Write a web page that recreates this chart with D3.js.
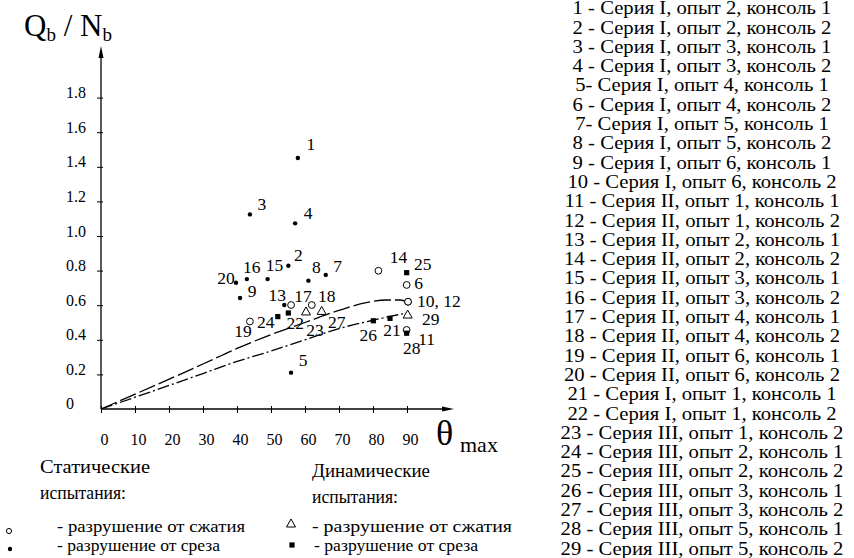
<!DOCTYPE html>
<html lang="ru">
<head>
<meta charset="utf-8" />
<title>Qb / Nb - theta max</title>
<script src="https://cdn.jsdelivr.net/npm/d3@7"></script>
<style>
  body { margin: 0; background: #fff; }
  svg text { font-family: "Liberation Serif", "Times New Roman", "DejaVu Serif", serif; }
  .axis line { stroke: #000; }
</style>
</head>
<body>
<svg id="chart" width="854" height="558"></svg>
<script>
// test points: number, theta max, Qb/Nb, failure kind
var pointIds = [1, 2, 3, 4, 5, 6, 7, 8, 9, 10, 11, 12, 13, 14, 15, 16, 17, 18, 19, 20, 21, 22, 23, 24, 25, 26, 27, 28, 29];
var thetaMax = [57.9, 55.1, 43.8, 57.1, 55.9, 89.9, 66.1, 61.0, 40.9, 90.3, 89.9, 90.3, 53.9, 81.6, 49.0,
                42.9, 55.9, 62.0, 43.8, 39.7, 85.0, 55.1, 60.3, 52.0, 89.9, 80.1, 64.9, 89.9, 90.2];
var qbNb = [1.451, 0.828, 1.125, 1.073, 0.210, 0.717, 0.775, 0.742, 0.642, 0.620, 0.457, 0.620, 0.601, 0.799, 0.751,
            0.751, 0.601, 0.601, 0.506, 0.730, 0.524, 0.555, 0.561, 0.534, 0.788, 0.510, 0.564, 0.438, 0.543];
// sc = static compression, ss = static shear, dc = dynamic compression, ds = dynamic shear
var kinds = ["ss", "ss", "ss", "ss", "ss", "sc", "ss", "ss", "ss", "sc", "sc", "sc", "ss", "sc", "ss",
             "ss", "sc", "sc", "sc", "ss", "ds", "ds", "dc", "ds", "ds", "ds", "dc", "ds", "dc"];

// the two curves
var upperTheta = [0, 30, 40, 50, 60, 70, 78, 84, 88, 90];
var upperVal   = [0, 0.26, 0.35, 0.43, 0.50, 0.57, 0.615, 0.63, 0.63, 0.62];
var lowerTheta = [0, 30, 40, 50, 60, 70, 80, 85, 90];
var lowerVal   = [0, 0.205, 0.275, 0.335, 0.40, 0.465, 0.513, 0.535, 0.555];

var yTicks = [0, 0.2, 0.4, 0.6, 0.8, 1.0, 1.2, 1.4, 1.6, 1.8];
var xTicks = [0, 10, 20, 30, 40, 50, 60, 70, 80, 90];

var legendRows = [
  "1 - Серия I, опыт 2, консоль 1",
  "2 - Серия I, опыт 2, консоль 2",
  "3 - Серия I, опыт 3, консоль 1",
  "4 - Серия I, опыт 3, консоль 2",
  "5- Серия I, опыт 4, консоль 1",
  "6 - Серия I, опыт 4, консоль 2",
  "7- Серия I, опыт 5, консоль 1",
  "8 - Серия I, опыт 5, консоль 2",
  "9 - Серия I, опыт 6, консоль 1",
  "10 - Серия I, опыт 6, консоль 2",
  "11 - Серия II, опыт 1, консоль 1",
  "12 - Серия II, опыт 1, консоль 2",
  "13 - Серия II, опыт 2, консоль 1",
  "14 - Серия II, опыт 2, консоль 2",
  "15 - Серия II, опыт 3, консоль 1",
  "16 - Серия II, опыт 3, консоль 2",
  "17 - Серия II, опыт 4, консоль 1",
  "18 - Серия II, опыт 4, консоль 2",
  "19 - Серия II, опыт 6, консоль 1",
  "20 - Серия II, опыт 6, консоль 2",
  "21 - Серия I, опыт 1, консоль 1",
  "22 - Серия I, опыт 1, консоль 2",
  "23 - Серия III, опыт 1, консоль 2",
  "24 - Серия III, опыт 2, консоль 1",
  "25 - Серия III, опыт 2, консоль 2",
  "26 - Серия III, опыт 3, консоль 1",
  "27 - Серия III, опыт 3, консоль 2",
  "28 - Серия III, опыт 5, консоль 1",
  "29 - Серия III, опыт 5, консоль 2"
];

// where each number sits relative to its mark (pixels), label 12 shares 10
var labelShift = {
  1: [13, -14], 2: [10, -11], 3: [12, -11], 4: [13, -10], 5: [12, -13], 6: [12, -2],
  7: [12, -9], 8: [8, -14], 9: [12, -7], 11: [20, 9], 13: [-7, -10], 14: [20, -14],
  15: [7, -14], 16: [5, -12], 17: [12, -9], 18: [15, -9], 19: [-7, 9], 20: [-10, -5],
  21: [2, 12], 22: [7, 10], 23: [9, 18], 24: [-12, 5], 25: [16, -9], 26: [-5, 14],
  27: [15, 10], 28: [5, 15], 29: [23, 4]
};

var svg = d3.select("#chart");

var x = d3.scaleLinear().domain([0, 90]).range([101, 407]);
var y = d3.scaleLinear().domain([0, 1.8]).range([409, 97.6]);

var points = pointIds.map(function(id, i) {
  return { id: id, t: thetaMax[i], v: qbNb[i], kind: kinds[i] };
});

// axes lines with arrows
svg.append("line").attr("x1", x(0)).attr("y1", y(0)).attr("x2", x(0)).attr("y2", 52)
   .attr("stroke", "#000").attr("stroke-width", 1.3);
svg.append("path").attr("d", "M101,46 L98.5,58 L103.5,58 Z").attr("fill", "#000");
svg.append("line").attr("x1", x(0)).attr("y1", y(0)).attr("x2", 448).attr("y2", y(0))
   .attr("stroke", "#000").attr("stroke-width", 1.3);
svg.append("path").attr("d", "M454,409 L442,406.5 L442,411.5 Z").attr("fill", "#000");

var yAxis = svg.append("g").attr("class", "axis").attr("transform", "translate(" + x(0) + ",0)")
  .call(d3.axisLeft(y).tickValues(yTicks.slice(1)).tickSizeInner(4).tickSizeOuter(0)
        .tickFormat(function(d) { return d.toFixed(1); }));
yAxis.attr("font-family", null).attr("font-size", null);
yAxis.select(".domain").remove();
yAxis.selectAll(".tick line").attr("x1", 2);
yAxis.selectAll(".tick text").attr("x", -35).attr("y", -5).attr("text-anchor", "start")
  .attr("font-size", 16).attr("fill", "#000");
svg.append("text").attr("x", 66).attr("y", y(0) - 5).attr("dy", "0.32em")
  .attr("font-size", 16).text("0");

var xAxis = svg.append("g").attr("class", "axis").attr("transform", "translate(0," + y(0) + ")")
  .call(d3.axisBottom(x).tickValues(xTicks).tickSizeInner(4).tickSizeOuter(0).tickFormat(d3.format("d")));
xAxis.attr("font-family", null).attr("font-size", null);
xAxis.select(".domain").remove();
xAxis.selectAll(".tick line").attr("y1", -3);
xAxis.selectAll(".tick text").attr("y", 31).attr("dy", "0.32em").attr("dx", 3)
  .attr("font-size", 16).attr("fill", "#000");

// axis titles
var yt = svg.append("text").attr("x", 24).attr("y", 36).attr("font-size", 31);
yt.append("tspan").text("Q");
yt.append("tspan").attr("font-size", 19).attr("dy", 5).text("b");
yt.append("tspan").attr("dy", -5).text(" / N");
yt.append("tspan").attr("font-size", 19).attr("dy", 5).text("b");

svg.append("text").attr("x", 436).attr("y", 445).attr("font-size", 36).text("θ");
svg.append("text").attr("x", 460).attr("y", 452).attr("font-size", 22).text("max");

// curves
var line = d3.line().x(function(d) { return x(d[0]); }).y(function(d) { return y(d[1]); })
  .curve(d3.curveMonotoneX);
svg.append("path").datum(d3.zip(upperTheta, upperVal)).attr("d", line)
  .attr("fill", "none").attr("stroke", "#000").attr("stroke-width", 1.3).attr("stroke-dasharray", "17,4");
svg.append("path").datum(d3.zip(lowerTheta, lowerVal)).attr("d", line)
  .attr("fill", "none").attr("stroke", "#000").attr("stroke-width", 1.3).attr("stroke-dasharray", "12,3,2,3");

// markers
function drawMark(sel, kind, small) {
  var k = small ? 0.75 : 1;
  if (kind === "ss") {
    sel.append("circle").attr("r", 2.2).attr("fill", "#000");
  } else if (kind === "sc") {
    sel.append("circle").attr("r", 3.4 * k).attr("fill", "#fff").attr("stroke", "#000").attr("stroke-width", 1);
  } else if (kind === "dc") {
    sel.append("path").attr("d", "M0,-5 L4.5,3 L-4.5,3 Z").attr("fill", "#fff").attr("stroke", "#000").attr("stroke-width", 1);
  } else {
    sel.append("rect").attr("x", -2.6).attr("y", -2.6).attr("width", 5.2).attr("height", 5.2).attr("fill", "#000");
  }
}

var marks = svg.append("g").selectAll("g").data(points).join("g")
  .attr("transform", function(d) { return "translate(" + x(d.t) + "," + y(d.v) + ")"; });
marks.each(function(d) { drawMark(d3.select(this), d.kind); });

svg.append("g").selectAll("text").data(points.filter(function(d) { return labelShift[d.id]; })).join("text")
  .attr("x", function(d) { return x(d.t) + labelShift[d.id][0]; })
  .attr("y", function(d) { return y(d.v) + labelShift[d.id][1]; })
  .attr("text-anchor", "middle").attr("dy", "0.35em").attr("font-size", 17.5)
  .text(function(d) { return d.id; });
var p10 = points[9];
svg.append("text").attr("x", x(p10.t) + 9).attr("y", y(p10.v) - 1).attr("dy", "0.35em")
  .attr("font-size", 17.5).text("10, 12");

// list of tests on the right, stretched to the width of the original list
var rows = svg.append("g");
rows.selectAll("text").data(legendRows).join("text")
  .attr("x", 0).attr("y", function(d, i) { return 8 + i * 19.3; })
  .attr("dy", "0.35em").attr("text-anchor", "middle").attr("font-size", 18)
  .text(function(d) { return d; });
var w1 = rows.select("text").node().getComputedTextLength();
rows.attr("transform", "translate(702,0) scale(" + (259 / w1) + ",1)");

// bottom legend
function legendText(tx, ty, s, size, width) {
  var t = svg.append("text").attr("x", tx).attr("y", ty).attr("font-size", size).text(s);
  if (width) t.attr("textLength", width).attr("lengthAdjust", "spacingAndGlyphs");
}
legendText(40, 473, "Статические", 19.5, 110);
legendText(40, 499, "испытания:", 19.5, 86);
legendText(57, 532, "- разрушение от сжатия", 16.5, 188);
legendText(57, 551, "- разрушение от среза", 16.5, 163);
legendText(312, 477, "Динамические", 19.5, 118);
legendText(312, 503, "испытания:", 19.5, 86);
legendText(312, 532, "- разрушение от сжатия", 16.5, 200);
legendText(314, 551, "- разрушение от среза", 16.5, 164);

var lg = [["sc", 9, 531], ["ss", 10, 549], ["dc", 291, 524], ["ds", 292, 545]];
lg.forEach(function(m) {
  var g = svg.append("g").attr("transform", "translate(" + m[1] + "," + m[2] + ")");
  drawMark(g, m[0], true);
});
</script>
</body>
</html>
